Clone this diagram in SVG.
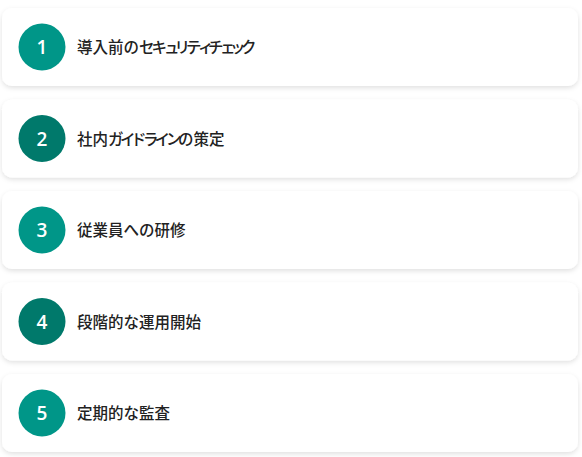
<svg xmlns="http://www.w3.org/2000/svg" width="582" height="457" viewBox="0 0 582 457">
<defs>
<filter id="sh" x="-5%" y="-20%" width="110%" height="150%">
<feDropShadow dx="0" dy="2" stdDeviation="2.5" flood-color="#000" flood-opacity="0.12"/>
</filter>
<style>
.card{fill:#fff;filter:url(#sh)}
.c1{fill:#009688}
.c2{fill:#00796B}
.num{font-family:"Open Sans","Noto Sans",sans-serif;font-size:19px;font-weight:600;fill:#fff;text-anchor:middle}
.lbl{font-family:"Noto Sans CJK JP","Noto Sans",sans-serif;font-size:15.5px;font-weight:500;fill:#222}
</style>
</defs>
<rect width="582" height="457" fill="#fff"/>
<g id="step1"><rect class="card" x="2" y="8" width="576" height="78" rx="10"/><circle class="c1" cx="42" cy="47" r="23.5"/><text class="num" x="42" y="54">1</text><text class="lbl" x="77 92.5 108 123.5 139 151.5 164 174.5 186 198 208 220 230 241" y="53">導入前のセキュリティチェック</text></g>
<g id="step2"><rect class="card" x="2" y="99.5" width="576" height="78" rx="10"/><circle class="c2" cx="42" cy="138.5" r="23.5"/><text class="num" x="42" y="145.5">2</text><text class="lbl" x="77 92.5 108 120 131 143 154.5 166 178 193.5 209" y="144.5">社内ガイドラインの策定</text></g>
<g id="step3"><rect class="card" x="2" y="191" width="576" height="78" rx="10"/><circle class="c1" cx="42" cy="230" r="23.5"/><text class="num" x="42" y="237">3</text><text class="lbl" x="77" y="236">従業員への研修</text></g>
<g id="step4"><rect class="card" x="2" y="282.5" width="576" height="78" rx="10"/><circle class="c2" cx="42" cy="321.5" r="23.5"/><text class="num" x="42" y="328.5">4</text><text class="lbl" x="77" y="327.5">段階的な運用開始</text></g>
<g id="step5"><rect class="card" x="2" y="374" width="576" height="78" rx="10"/><circle class="c1" cx="42" cy="413" r="23.5"/><text class="num" x="42" y="420">5</text><text class="lbl" x="77" y="419">定期的な監査</text></g>
<g id="connectors"/>
</svg>
